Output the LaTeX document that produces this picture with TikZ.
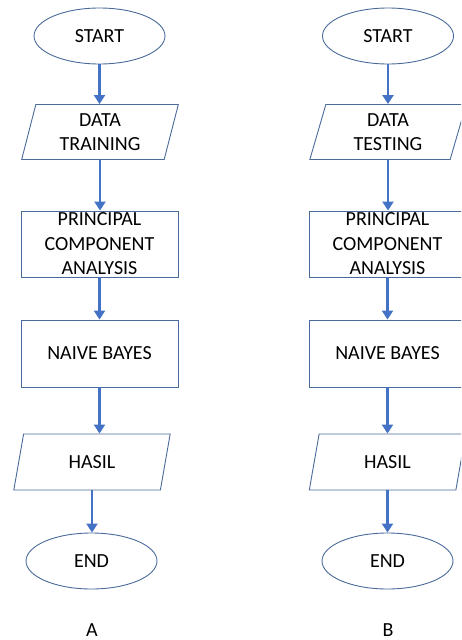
\documentclass[tikz,border=0pt]{standalone}
\usepackage{fontspec}
\setmainfont{Carlito}
\usetikzlibrary{shapes.geometric,arrows.meta}
\definecolor{edgeblue}{HTML}{4A6A9A}
\definecolor{flowblue}{HTML}{4472C4}
\begin{document}
\begin{tikzpicture}[x=1pt,y=-1pt,
        term/.style={draw=edgeblue,ellipse,line width=0.9pt,minimum width=131pt,minimum height=56pt,inner sep=1pt,font=\fontsize{20}{24.5}\selectfont},
        io/.style={draw=edgeblue,trapezium,trapezium left angle=77,trapezium right angle=103,trapezium stretches=true,line width=0.9pt,minimum width=157pt,minimum height=55pt,inner sep=1pt,align=center,font=\fontsize{20}{24.5}\selectfont},
        proc/.style={draw=edgeblue,rectangle,line width=0.9pt,minimum width=157pt,minimum height=66pt,inner xsep=2pt,inner ysep=1.5pt,align=center,font=\fontsize{20}{24.5}\selectfont},
        flow/.style={draw=flowblue,line width=2.6pt,-{Triangle[width=11pt,length=9pt]}},
        tag/.style={font=\fontsize{20}{24.5}\selectfont}
      ]
      \useasboundingbox (0,0) rectangle (461,640);
      \clip (0,0) rectangle (461,640);
      % A
      \node[term] (startA) at (99.5,36) {START};
      \node[io] (dataA) at (100,132) {DATA\\TRAINING};
      \node[proc] (pcaA) at (99.5,244) {PRINCIPAL\\COMPONENT\\ANALYSIS};
      \node[proc,minimum height=67pt] (nbA) at (99.5,353.5) {NAIVE BAYES};
      \node[io,minimum height=56pt] (hasilA) at (92,462) {HASIL};
      \node[term] (endA) at (91.5,561) {END};
      \node[tag] (labA) at (92,630) {A};
      \draw[flow] (startA.south) -- (startA.south |- dataA.north);
      \draw[flow] (dataA.south) -- (dataA.south |- pcaA.north);
      \draw[flow] (pcaA.south) -- (nbA.north);
      \draw[flow] (nbA.south) -- (nbA.south |- hasilA.north);
      \draw[flow] (hasilA.south) -- (hasilA.south |- endA.north);
      % B
      \node[term] (startB) at (388,36) {START};
      \node[io] (dataB) at (388,132) {DATA\\TESTING};
      \node[proc] (pcaB) at (387.5,244) {PRINCIPAL\\COMPONENT\\ANALYSIS};
      \node[proc,minimum height=67pt] (nbB) at (387.5,353.5) {NAIVE BAYES};
      \node[io,minimum height=56pt] (hasilB) at (387.5,462) {HASIL};
      \node[term] (endB) at (387.5,561) {END};
      \node[tag] (labB) at (388,630) {B};
      \draw[flow] (startB.south) -- (startB.south |- dataB.north);
      \draw[flow] (dataB.south) -- (dataB.south |- pcaB.north);
      \draw[flow] (pcaB.south) -- (nbB.north);
      \draw[flow] (nbB.south) -- (nbB.south |- hasilB.north);
      \draw[flow] (hasilB.south) -- (hasilB.south |- endB.north);
    \end{tikzpicture}
\end{document}
